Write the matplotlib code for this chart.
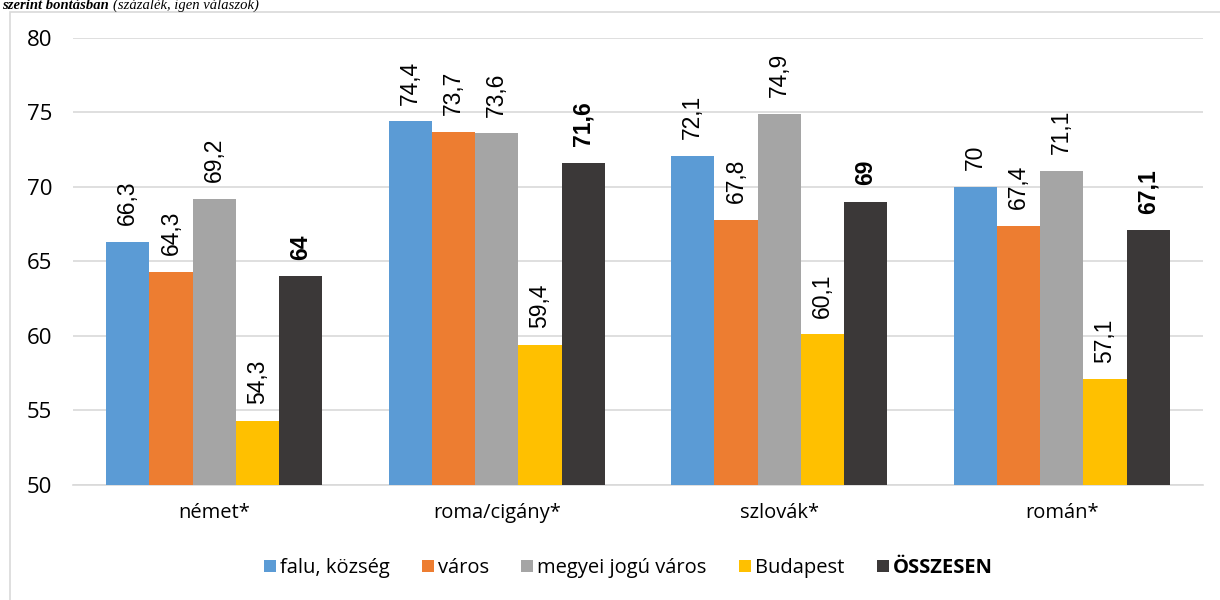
import matplotlib
matplotlib.use("Agg")
import matplotlib.pyplot as plt
import numpy as np
from matplotlib.patches import Rectangle, Patch

# data
categories = ["német*", "roma/cigány*", "szlovák*", "román*"]
series_names = ["falu, község", "város", "megyei jogú város", "Budapest", "ÖSSZESEN"]
falu = [66.3, 74.4, 72.1, 70.0]
varos = [64.3, 73.7, 67.8, 67.4]
megyei = [69.2, 73.6, 74.9, 71.1]
budapest = [54.3, 59.4, 60.1, 57.1]
osszesen = [64.0, 71.6, 69.0, 67.1]

series = [falu, varos, megyei, budapest, osszesen]
colors = ["#5B9BD5", "#ED7D31", "#A5A5A5", "#FFC000", "#3B3838"]


def fmt(v):
    # hungarian decimal comma, drop trailing ,0
    if float(v).is_integer():
        return str(int(v))
    return f"{v:.1f}".replace(".", ",")


fig = plt.figure(figsize=(12.2, 6), dpi=100)
ax = fig.add_axes([0.0598, 0.1917, 0.9262, 0.745])

# chart border + caption line above it
fig.patches.append(Rectangle((10 / 1220, -0.1), 1.2, 1 - 12 / 600 + 0.1,
                             transform=fig.transFigure, fill=False,
                             edgecolor="#D9D9D9", linewidth=1.2))
t1 = fig.text(0.002, 1 - 9 / 600, "szerint bontásban ", fontfamily="Liberation Serif",
              fontsize=10.5, fontstyle="italic", fontweight="bold", va="baseline")
fig.canvas.draw()
bb = t1.get_window_extent(renderer=fig.canvas.get_renderer())
fig.text(bb.x1 / fig.bbox.width, 1 - 9 / 600, "(százalék, igen válaszok)",
         fontfamily="Liberation Serif", fontsize=10.5, fontstyle="italic", va="baseline")

x = np.arange(len(categories))
w = 0.153
offsets = (np.arange(len(series)) - 2) * w

for i, (vals, col) in enumerate(zip(series, colors)):
    bars = ax.bar(x + offsets[i], np.array(vals) - 50, bottom=50, width=w,
                  color=col, zorder=3)
    bold = i == len(series) - 1
    for b, v in zip(bars, vals):
        ax.annotate(fmt(v), (b.get_x() + b.get_width() / 2, v),
                    xytext=(0, 12), textcoords="offset points",
                    rotation=90, ha="center", va="bottom",
                    fontsize=16.5,
                    fontweight="bold" if bold else "normal",
                    fontfamily="Liberation Sans", color="#000000")

ax.set_ylim(50, 80)
ax.set_xlim(-0.5, len(categories) - 0.5)
ax.set_yticks(range(50, 81, 5))
ax.set_xticks(x)
ax.set_xticklabels(categories)
ax.yaxis.grid(True, color="#D9D9D9", linewidth=1.2, zorder=0)
for s in ["top", "right", "left"]:
    ax.spines[s].set_visible(False)
ax.spines["bottom"].set_color("#D9D9D9")
ax.spines["bottom"].set_linewidth(1.2)
ax.tick_params(axis="y", length=0, labelsize=16, colors="#000000", pad=15)
ax.tick_params(axis="x", length=0, labelsize=14.5, colors="#000000", pad=13)
for lab in ax.get_xticklabels() + ax.get_yticklabels():
    lab.set_fontfamily("Open Sans")

handles = [Patch(facecolor=c) for c in colors]
leg = fig.legend(handles, series_names, loc="center", bbox_to_anchor=(0.515, 0.053),
                 ncol=5, frameon=False, handlelength=0.6, handleheight=0.6,
                 handletextpad=0.2, columnspacing=1.6,
                 prop={"family": "Open Sans", "size": 14.5})
leg.get_texts()[-1].set_fontweight("bold")

fig.savefig("out.png", dpi=100)
